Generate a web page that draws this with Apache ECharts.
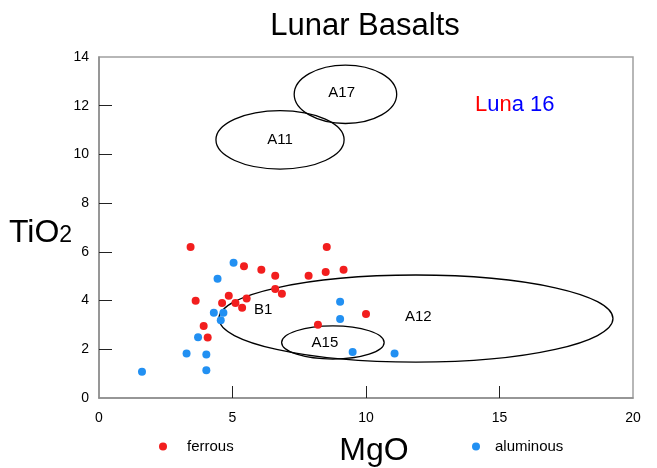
<!DOCTYPE html>
<html>
<head>
<meta charset="utf-8">
<script src="https://cdn.jsdelivr.net/npm/echarts@6/dist/echarts.min.js"></script>
<style>
html,body{margin:0;padding:0;background:#fff;}
#c{width:657px;height:468px;}
</style>
</head>
<body>
<div id="c"></div>
<script>
// ---- data ----
const ferrousMgO  = [3.43, 5.43, 6.08, 6.60, 6.60, 6.85, 3.62, 4.86, 4.61, 5.11, 5.53, 5.36, 3.92, 4.07, 8.53, 7.85, 8.49, 9.16, 10.00, 8.20];
const ferrousTiO2 = [6.20, 5.41, 5.27, 5.02, 4.47, 4.28, 3.99, 4.20, 3.90, 3.90, 4.09, 3.71, 2.96, 2.48, 6.20, 5.02, 5.17, 5.27, 3.45, 3.01];
const aluminousMgO  = [5.04, 4.44, 4.30, 4.66, 4.56, 3.71, 3.28, 4.02, 4.02, 1.61, 9.03, 9.03, 9.50, 11.07];
const aluminousTiO2 = [5.55, 4.90, 3.50, 3.50, 3.19, 2.49, 1.83, 1.79, 1.14, 1.08, 3.95, 3.24, 1.89, 1.83];

// fields (ellipses): centre and half-widths in data units
const fieldNames = ['A17', 'A11', 'A12', 'A15'];
const fieldCx = [9.23, 6.78, 11.87, 8.76];
const fieldCy = [12.47, 10.60, 3.26, 2.28];
const fieldRx = [1.92, 2.40, 7.38, 1.92];
const fieldRy = [1.20, 1.20, 1.79, 0.68];

// field labels
const labelNames = ['A17', 'A11', 'B1', 'A12', 'A15'];
const labelMgO  = [9.09, 6.78, 6.15, 11.96, 8.46];
const labelTiO2 = [12.53, 10.60, 3.61, 3.34, 2.25];

const xTickValues = [5, 10, 15];
const yTickValues = [2, 4, 6, 8, 10, 12];

// ---- chart ----
const FONT = "'Liberation Sans', Arial, sans-serif";
const RED = '#f21e1e';
const BLUE = '#2290f2';

const ferrous = ferrousMgO.map((x, i) => [x, ferrousTiO2[i]]);
const aluminous = aluminousMgO.map((x, i) => [x, aluminousTiO2[i]]);
const fields = fieldNames.map((n, i) => [fieldCx[i], fieldCy[i], fieldRx[i], fieldRy[i], n]);
const labels = labelNames.map((n, i) => [labelMgO[i], labelTiO2[i], n]);

const chart = echarts.init(document.getElementById('c'), null, {renderer: 'canvas'});
chart.setOption({
  animation: false,
  backgroundColor: '#fff',
  textStyle: {fontFamily: FONT},
  grid: {left: 99, right: 24, top: 57, bottom: 70, show: true, borderColor: '#a0a0a0', borderWidth: 1.5, backgroundColor: 'transparent'},
  xAxis: {
    type: 'value', min: 0, max: 20, interval: 5,
    axisLine: {show: true, lineStyle: {color: '#8c8c8c', width: 1.5}},
    axisTick: {show: true, inside: true, length: 12, customValues: xTickValues, lineStyle: {color: '#222', width: 1}},
    axisLabel: {color: '#000', fontSize: 14, fontFamily: FONT, margin: 13},
    splitLine: {show: false}
  },
  yAxis: {
    type: 'value', min: 0, max: 14, interval: 2,
    axisLine: {show: true, lineStyle: {color: '#8c8c8c', width: 1.5}},
    axisTick: {show: true, inside: true, length: 13, customValues: yTickValues, lineStyle: {color: '#222', width: 1}},
    axisLabel: {color: '#000', fontSize: 14, fontFamily: FONT, margin: 10},
    splitLine: {show: false}
  },
  legend: [
    {data: ['ferrous'], left: 154, top: 434, icon: 'circle', itemWidth: 8, itemHeight: 8,
     textStyle: {fontSize: 15, fontFamily: FONT, color: '#000', padding: [0, 0, 0, 15]}},
    {data: ['aluminous'], left: 467, top: 434, icon: 'circle', itemWidth: 8, itemHeight: 8,
     textStyle: {fontSize: 15, fontFamily: FONT, color: '#000', padding: [0, 0, 0, 10]}}
  ],
  graphic: [
    {type: 'text', x: 365, y: 26, style: {text: 'Lunar Basalts', fontSize: 31, fontFamily: FONT, fill: '#000', align: 'center', verticalAlign: 'middle'}},
    {type: 'text', x: 374, y: 451, style: {text: 'MgO', fontSize: 32, fontFamily: FONT, fill: '#000', align: 'center', verticalAlign: 'middle'}},
    {type: 'text', x: 9, y: 233, style: {
      text: '{a|TiO}{b|2}', fontFamily: FONT, fill: '#000', align: 'left', verticalAlign: 'middle',
      rich: {a: {fontSize: 32, fontFamily: FONT, verticalAlign: 'bottom'}, b: {fontSize: 23, fontFamily: FONT, verticalAlign: 'bottom', padding: [0, 0, 2, 0]}}
    }},
    {type: 'text', x: 475, y: 105, style: {
      text: '{r|L}{b|u}{r|n}{b|a 16}', fontFamily: FONT, align: 'left', verticalAlign: 'middle',
      rich: {r: {fontSize: 22, fontFamily: FONT, fill: '#ff0000', color: '#ff0000'}, b: {fontSize: 22, fontFamily: FONT, fill: '#0000ff', color: '#0000ff'}}
    }}
  ],
  series: [
    {
      name: 'fields', type: 'custom', silent: true, z: 1,
      data: fields,
      renderItem: function (params, api) {
        const c = api.coord([api.value(0), api.value(1)]);
        const s = api.size([api.value(2), api.value(3)]);
        return {type: 'ellipse', shape: {cx: c[0], cy: c[1], rx: s[0], ry: s[1]},
                style: {fill: 'none', stroke: '#000', lineWidth: 1.3}};
      }
    },
    {
      name: 'labels', type: 'custom', silent: true, z: 2,
      data: labels,
      renderItem: function (params, api) {
        const c = api.coord([api.value(0), api.value(1)]);
        return {type: 'text', x: c[0], y: c[1],
                style: {text: labels[params.dataIndex][2], fontSize: 15, fontFamily: FONT, fill: '#000', align: 'center', verticalAlign: 'middle'}};
      }
    },
    {name: 'ferrous', type: 'scatter', symbol: 'circle', symbolSize: 8, z: 3, itemStyle: {color: RED, opacity: 1}, data: ferrous},
    {name: 'aluminous', type: 'scatter', symbol: 'circle', symbolSize: 8, z: 3, itemStyle: {color: BLUE, opacity: 1}, data: aluminous}
  ]
});
</script>
</body>
</html>
